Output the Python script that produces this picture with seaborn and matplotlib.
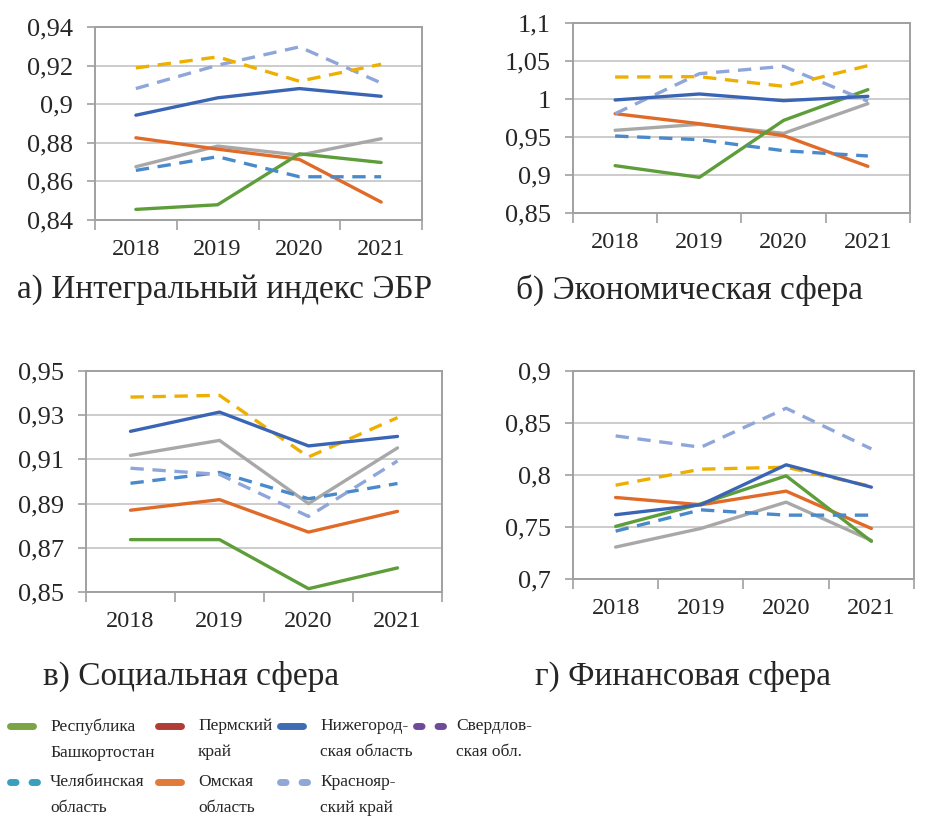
import numpy as np
import pandas as pd
import matplotlib
matplotlib.use("Agg")
import matplotlib.pyplot as plt
import seaborn as sns
from matplotlib.lines import Line2D
from matplotlib.ticker import FuncFormatter, FixedLocator

# --- data ---
years = ['2018', '2019', '2020', '2021']

# panel a) integral index
a_green = [0.8455, 0.8479, 0.8743, 0.8698]
a_orange = [0.8826, 0.8767, 0.8714, 0.8493]
a_blue = [0.8943, 0.9033, 0.9081, 0.9041]
a_gray = [0.8676, 0.8783, 0.8736, 0.8821]
a_gold = [0.9188, 0.9245, 0.9119, 0.9207]
a_lblue = [0.9081, 0.9202, 0.9297, 0.9110]
a_mblue = [0.8657, 0.8728, 0.8624, 0.8624]

# panel b) economic sphere
b_green = [0.9123, 0.8969, 0.9719, 1.0123]
b_orange = [0.9807, 0.9675, 0.9518, 0.9114]
b_blue = [0.9987, 1.0066, 0.9978, 1.0035]
b_gray = [0.9588, 0.9667, 0.9548, 0.9939]
b_gold = [1.0289, 1.0294, 1.0167, 1.0439]
b_lblue = [0.9807, 1.0333, 1.0430, 0.9969]
b_mblue = [0.9513, 0.9465, 0.9320, 0.9250]

# panel c) social sphere
c_green = [0.8737, 0.8737, 0.8515, 0.8609]
c_orange = [0.8870, 0.8918, 0.8771, 0.8865]
c_blue = [0.9227, 0.9314, 0.9161, 0.9204]
c_gray = [0.9118, 0.9186, 0.8900, 0.9152]
c_gold = [0.9382, 0.9390, 0.9111, 0.9289]
c_lblue = [0.9060, 0.9032, 0.8842, 0.9093]
c_mblue = [0.8992, 0.9041, 0.8922, 0.8991]

# panel d) financial sphere
d_green = [0.7506, 0.7723, 0.7992, 0.7362]
d_orange = [0.7784, 0.7714, 0.7845, 0.7486]
d_blue = [0.7618, 0.7714, 0.8098, 0.7883]
d_gray = [0.7307, 0.7486, 0.7739, 0.7371]
d_gold = [0.7902, 0.8056, 0.8075, 0.7890]
d_lblue = [0.8376, 0.8267, 0.8642, 0.8251]
d_mblue = [0.7460, 0.7665, 0.7614, 0.7614]

captions = ['а) Интегральный индекс ЭБР', 'б) Экономическая сфера',
            'в) Социальная сфера', 'г) Финансовая сфера']
yticks_a = [0.84, 0.86, 0.88, 0.90, 0.92, 0.94]
yticks_b = [0.85, 0.90, 0.95, 1.00, 1.05, 1.10]
yticks_c = [0.85, 0.87, 0.89, 0.91, 0.93, 0.95]
yticks_d = [0.70, 0.75, 0.80, 0.85, 0.90]

legend_labels = ['Республика\nБашкортостан', 'Пермский\nкрай', 'Нижегород-\nская область',
                 'Свердлов-\nская обл.', 'Челябинская\nобласть', 'Омская\nобласть',
                 'Краснояр-\nский край']

# --- styles ---
series_style = [  # (color, dashed)
    ('#5E9E3A', False),   # green
    ('#E06A28', False),   # orange
    ('#3A65B5', False),   # blue
    ('#A8A8A8', False),   # gray
    ('#EEB000', True),    # gold dashed
    ('#8EA6DA', True),    # light blue dashed
    ('#4A8ACB', True),    # mid blue dashed
]
draw_order = [3, 1, 0, 6, 5, 4, 2]

legend_style = [
    ('#7BA444', False), ('#B03C34', False), ('#3F6DB3', False), ('#6E4B99', True),
    ('#3A9FBF', True), ('#E07B39', False), ('#8FA8D8', True),
]

sns.set_theme(style="white")
plt.rcParams['font.family'] = ['Liberation Serif', 'DejaVu Serif']

fig = plt.figure(figsize=(9.28, 8.22), dpi=100)

W, H = 928, 822
boxes = [(95, 27, 422, 220), (573, 23, 910, 213), (86, 371, 442, 592), (573, 371, 914, 579)]
panels = [
    [a_green, a_orange, a_blue, a_gray, a_gold, a_lblue, a_mblue],
    [b_green, b_orange, b_blue, b_gray, b_gold, b_lblue, b_mblue],
    [c_green, c_orange, c_blue, c_gray, c_gold, c_lblue, c_mblue],
    [d_green, d_orange, d_blue, d_gray, d_gold, d_lblue, d_mblue],
]
yticks_all = [yticks_a, yticks_b, yticks_c, yticks_d]
caption_pos = [(225, 290), (690, 290), (191, 676), (683, 676)]

fmt = FuncFormatter(lambda v, p: f"{round(v, 3):g}".replace('.', ','))
xs = np.arange(len(years))

for box, series, yt, cap, cpos in zip(boxes, panels, yticks_all, captions, caption_pos):
    l, t, r, b = box
    ax = fig.add_axes([l / W, 1 - b / H, (r - l) / W, (b - t) / H])
    for i in draw_order:
        color, dashed = series_style[i]
        df = pd.DataFrame({'x': xs, 'y': series[i]})
        sns.lineplot(data=df, x='x', y='y', ax=ax, color=color, lw=2.4,
                     linestyle=(0, (4, 2.6)) if dashed else '-', legend=False)
    ax.set_xlim(-0.5, len(years) - 0.5)
    ax.set_ylim(yt[0], yt[-1])
    ax.set_yticks(yt)
    ax.yaxis.set_major_formatter(fmt)
    ax.set_xticks(xs)
    ax.set_xticklabels(years)
    ax.xaxis.set_minor_locator(FixedLocator(np.arange(-0.5, len(years), 1.0)))
    ax.tick_params(axis='x', which='major', length=0, pad=14, labelsize=17.5)
    ax.tick_params(axis='x', which='minor', length=7, width=1.2, color='#A0A0A0', direction='out')
    ax.tick_params(axis='y', which='major', length=6, width=1.2, color='#A0A0A0', direction='out',
                   pad=10, labelsize=19)
    ax.tick_params(axis='x', which='minor', bottom=True)
    ax.tick_params(axis='y', left=True)
    ax.grid(axis='y', color='#C4C4C4', lw=1.2)
    ax.set_axisbelow(True)
    for s in ax.spines.values():
        s.set_color('#A0A0A0')
        s.set_linewidth(1.4)
    ax.set_xlabel('')
    ax.set_ylabel('')
    fig.text(cpos[0] / W, 1 - cpos[1] / H, cap, ha='center', va='center', fontsize=24)

# --- legend drawn at the bottom ---
col_x = [7, 155, 277, 413]
row_y = [726, 782]
for k, (lab, (color, dashed)) in enumerate(zip(legend_labels, legend_style)):
    row, col = divmod(k, 4)
    x0 = col_x[col]
    y0 = 1 - row_y[row] / H
    x1 = x0 + 30.5 if dashed else x0 + 26.5
    ln = Line2D([(x0 + 3.5) / W, x1 / W], [y0, y0], transform=fig.transFigure,
                color=color, lw=5, solid_capstyle='round', dash_capstyle='round',
                linestyle=(0, (0.8, 2.3)) if dashed else '-')
    fig.add_artist(ln)
    fig.text((x0 + 43) / W, 1 - (row_y[row] - 8) / H, lab, ha='left', va='top',
             fontsize=12.5, linespacing=1.85)

fig.savefig('out.png', dpi=100)
